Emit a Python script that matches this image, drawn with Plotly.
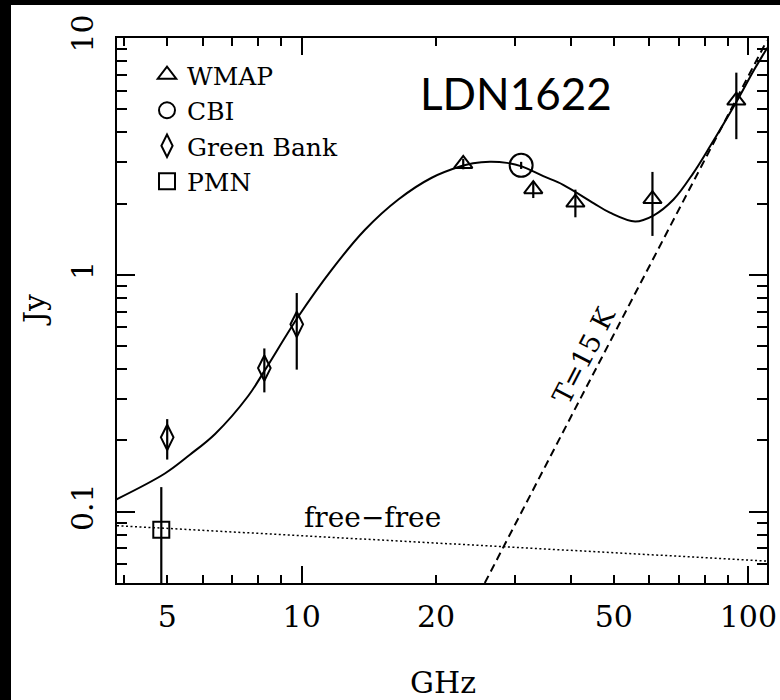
import numpy as np
import plotly.graph_objects as go

# ---- measurements -------------------------------------------------------
wmap_freq = [23.0, 33.0, 41.0, 61.0, 94.0]
wmap_flux = [2.94, 2.30, 2.02, 2.09, 5.44]
wmap_err = [0.15, 0.19, 0.27, 0.63, 1.70]

cbi_freq = [31.0]
cbi_flux = [2.90]
cbi_err = [0.10]

gb_freq = [5.0, 8.25, 9.75]
gb_flux = [0.206, 0.404, 0.618]
gb_err = [0.040, 0.085, 0.220]

pmn_freq = [4.85]
pmn_flux = [0.084]
pmn_err = [0.043]

# ---- model curves --------------------------------------------------------
model_freq = [3.82, 4.94, 5.62, 6.40, 7.59, 8.28, 9.83, 11.67, 13.86, 16.46,
              19.55, 22.8, 24.2, 26.4, 28.8, 31.1, 34.75, 38.5, 45.0, 49.0,
              55.8, 61.3, 68.0, 75.3, 82.1, 94.2, 102.6, 110.3]
model_flux = [0.112, 0.145, 0.174, 0.213, 0.308, 0.397, 0.667, 1.05, 1.55, 2.08,
              2.57, 2.88, 2.96, 3.00, 2.97, 2.87, 2.61, 2.40, 2.01, 1.83,
              1.68, 1.78, 2.08, 2.69, 3.49, 5.41, 7.24, 9.09]

dust_freq = [25.7, 40.0, 110.0]
dust_flux = [0.05, 0.25, 9.75]

ff_freq = [3.86, 110.0]
ff_flux = [0.0873, 0.0619]

# ---- axes ----------------------------------------------------------------
x_range = [3.86, 110.1]
y_range = [0.05, 10.0]
x_labels = [5, 10, 20, 50, 100]
x_minor = [4, 6, 7, 8, 9, 30, 40, 60, 70, 80, 90]
x_major = [10, 100]
y_labels = [0.1, 1, 10]
y_minor = [0.06, 0.07, 0.08, 0.09, 0.2, 0.3, 0.4, 0.5, 0.6, 0.7, 0.8, 0.9,
           2, 3, 4, 5, 6, 7, 8, 9]

SERIF = "DejaVu Serif"
INK = "black"

W, H = 780, 700
ML, MR, MT, MB = 117, 13, 38, 117
PW, PH = W - ML - MR, H - MT - MB


def px(xp):
    return (xp - ML) / PW


def py(yp):
    return (H - MB - yp) / PH


fig = go.Figure()

fig.add_trace(go.Scatter(
    x=model_freq, y=model_flux, mode="lines",
    line=dict(color=INK, width=2, shape="spline", smoothing=1.0),
    showlegend=False, hoverinfo="skip"))
fig.add_trace(go.Scatter(
    x=dust_freq, y=dust_flux, mode="lines", line=dict(color=INK, width=2, dash="8px,5px"),
    showlegend=False, hoverinfo="skip"))
fig.add_trace(go.Scatter(
    x=ff_freq, y=ff_flux, mode="lines", line=dict(color=INK, width=1.5, dash="2px,2.5px"),
    showlegend=False, hoverinfo="skip"))


def points(name, fx, fy, err, symbol, size):
    return go.Scatter(
        x=fx, y=fy, name=name, mode="markers",
        marker=dict(symbol=symbol, size=size, color=INK, line=dict(color=INK, width=2)),
        error_y=dict(type="data", array=err, visible=True, color=INK, thickness=2.2, width=0),
        legendgroup=name)


fig.add_trace(points("WMAP", wmap_freq, wmap_flux, wmap_err, "triangle-up-open", 16))
fig.add_trace(points("CBI", cbi_freq, cbi_flux, cbi_err, "circle-open", 23))
fig.add_trace(points("Green Bank", gb_freq, gb_flux, gb_err, "diamond-tall-open", 18))
fig.add_trace(points("PMN", pmn_freq, pmn_flux, pmn_err, "square-open", 16))

# empty trace so the secondary x axis (long decade ticks) is drawn
fig.add_trace(go.Scatter(x=[], y=[], xaxis="x2", yaxis="y", showlegend=False))

axis_common = dict(type="log", showgrid=False, zeroline=False, showline=True,
                   linecolor=INK, linewidth=2, ticks="inside", tickcolor=INK,
                   tickwidth=2, mirror="ticks")


def label(text, x, y, size=26, family=SERIF, angle=0):
    return dict(text=text, x=px(x), y=py(y), xref="paper", yref="paper",
                xanchor="center", yanchor="middle", showarrow=False,
                textangle=angle, font=dict(family=family, size=size, color=INK))


fig.update_layout(
    width=W, height=H,
    margin=dict(l=ML, r=MR, t=MT, b=MB, autoexpand=False),
    paper_bgcolor="white", plot_bgcolor="white",
    font=dict(family=SERIF, color=INK),
    xaxis=dict(
        **axis_common,
        range=[np.log10(x_range[0]), np.log10(x_range[1])],
        tickmode="array", tickvals=x_labels, ticktext=[str(v) for v in x_labels],
        ticklen=8, tickfont=dict(family=SERIF, size=30, color=INK),
        ticklabelstandoff=6,
        minor=dict(tickmode="array", tickvals=x_minor, ticks="inside",
                   ticklen=8, tickwidth=2, tickcolor=INK, showgrid=False),
    ),
    xaxis2=dict(
        **axis_common,
        overlaying="x", anchor="y", side="bottom",
        range=[np.log10(x_range[0]), np.log10(x_range[1])],
        tickmode="array", tickvals=x_major, ticklen=17, showticklabels=False,
    ),
    yaxis=dict(
        **axis_common,
        range=[np.log10(y_range[0]), np.log10(y_range[1])],
        tickmode="array", tickvals=y_labels, ticktext=["0.1", "1", "10"],
        ticklen=18, tickangle=-90, tickfont=dict(family=SERIF, size=30, color=INK),
        ticklabelstandoff=10,
        minor=dict(tickmode="array", tickvals=y_minor, ticks="inside",
                   ticklen=10, tickwidth=2, tickcolor=INK, showgrid=False),
    ),
    legend=dict(
        x=px(147), y=py(52), xanchor="left", yanchor="top",
        bgcolor="rgba(0,0,0,0)", borderwidth=0,
        font=dict(family=SERIF, size=25, color=INK),
        traceorder="normal", tracegroupgap=0, itemclick=False,
    ),
    annotations=[
        label("GHz", 443, 682, size=30),
        label("Jy", 34, 310, size=30, angle=-90),
        label("LDN1622", 516, 93, size=44, family="Lato"),
        label("free\u2212free", 372, 517, size=28),
        label("T=15 K", 584, 356, size=27, angle=-62.7),
    ],
    shapes=[
        # dark border strips along the top and left edges of the page
        dict(type="rect", xref="paper", yref="paper", x0=px(0), x1=px(780),
             y0=py(5), y1=py(0), fillcolor="black", line=dict(width=0), layer="above"),
        dict(type="rect", xref="paper", yref="paper", x0=px(0), x1=px(11),
             y0=py(700), y1=py(0), fillcolor="black", line=dict(width=0), layer="above"),
    ],
)

# page without margins or scrollbars
fig.write_html(
    "out.html",
    post_script="document.body.style.margin='0';"
                "document.documentElement.style.overflow='hidden';"
                "document.body.style.overflow='hidden';",
)
